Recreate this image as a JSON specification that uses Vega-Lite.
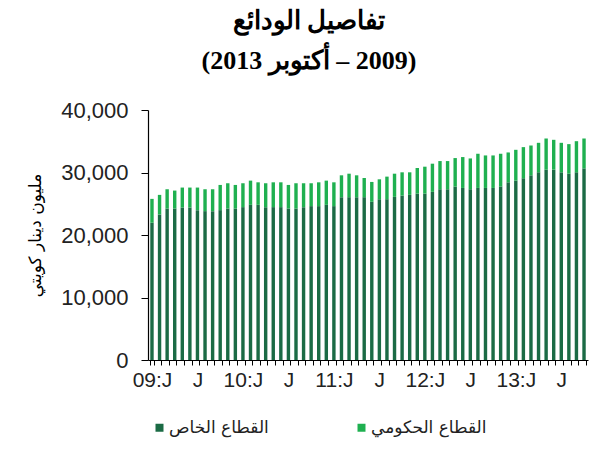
{
  "$schema": "https://vega.github.io/schema/vega-lite/v6.json",
  "width": 440,
  "height": 250,
  "autosize": {"type": "none"},
  "padding": {"left": 148, "top": 110, "right": 16, "bottom": 90},
  "background": "white",
  "title": {
    "text": ["تفاصيل الودائع", "⁧(2009 – أكتوبر 2013)⁩"],
    "font": "Liberation Serif, DejaVu Serif",
    "fontSize": 26,
    "fontWeight": "bold",
    "color": "black",
    "lineHeight": 40,
    "anchor": "middle",
    "dx": -59,
    "offset": 25
  },
  "config": {"view": {"stroke": null}},
  "data": {
    "values": [
      {"m": "2009-01", "القطاع الخاص": 21960, "القطاع الحكومي": 3820},
      {"m": "2009-02", "القطاع الخاص": 23290, "القطاع الحكومي": 3130},
      {"m": "2009-03", "القطاع الخاص": 24240, "القطاع الحكومي": 3080},
      {"m": "2009-04", "القطاع الخاص": 24240, "القطاع الحكومي": 2870},
      {"m": "2009-05", "القطاع الخاص": 24400, "القطاع الحكومي": 3190},
      {"m": "2009-06", "القطاع الخاص": 24400, "القطاع الحكومي": 3190},
      {"m": "2009-07", "القطاع الخاص": 23980, "القطاع الحكومي": 3610},
      {"m": "2009-08", "القطاع الخاص": 23820, "القطاع الحكومي": 3500},
      {"m": "2009-09", "القطاع الخاص": 23820, "القطاع الحكومي": 3500},
      {"m": "2009-10", "القطاع الخاص": 23980, "القطاع الحكومي": 4030},
      {"m": "2009-11", "القطاع الخاص": 24240, "القطاع الحكومي": 4040},
      {"m": "2009-12", "القطاع الخاص": 24240, "القطاع الحكومي": 3770},
      {"m": "2010-01", "القطاع الخاص": 24460, "القطاع الحكومي": 3820},
      {"m": "2010-02", "القطاع الخاص": 24830, "القطاع الحكومي": 3870},
      {"m": "2010-03", "القطاع الخاص": 24830, "القطاع الحكومي": 3600},
      {"m": "2010-04", "القطاع الخاص": 24460, "القطاع الحكومي": 3820},
      {"m": "2010-05", "القطاع الخاص": 24460, "القطاع الحكومي": 3970},
      {"m": "2010-06", "القطاع الخاص": 24460, "القطاع الحكومي": 3970},
      {"m": "2010-07", "القطاع الخاص": 24240, "القطاع الحكومي": 3770},
      {"m": "2010-08", "القطاع الخاص": 24240, "القطاع الحكومي": 4040},
      {"m": "2010-09", "القطاع الخاص": 24460, "القطاع الحكومي": 3820},
      {"m": "2010-10", "القطاع الخاص": 24620, "القطاع الحكومي": 3660},
      {"m": "2010-11", "القطاع الخاص": 24620, "القطاع الحكومي": 3810},
      {"m": "2010-12", "القطاع الخاص": 24830, "القطاع الحكومي": 3870},
      {"m": "2011-01", "القطاع الخاص": 24620, "القطاع الحكومي": 3810},
      {"m": "2011-02", "القطاع الخاص": 26050, "القطاع الحكومي": 3500},
      {"m": "2011-03", "القطاع الخاص": 26050, "القطاع الحكومي": 3760},
      {"m": "2011-04", "القطاع الخاص": 26050, "القطاع الحكومي": 3500},
      {"m": "2011-05", "القطاع الخاص": 26050, "القطاع الحكومي": 3070},
      {"m": "2011-06", "القطاع الخاص": 25310, "القطاع الحكومي": 3180},
      {"m": "2011-07", "القطاع الخاص": 25730, "القطاع الحكومي": 3180},
      {"m": "2011-08", "القطاع الخاص": 25730, "القطاع الحكومي": 3610},
      {"m": "2011-09", "القطاع الخاص": 26100, "القطاع الحكومي": 3710},
      {"m": "2011-10", "القطاع الخاص": 26310, "القطاع الحكومي": 3720},
      {"m": "2011-11", "القطاع الخاص": 26420, "القطاع الحكومي": 3610},
      {"m": "2011-12", "القطاع الخاص": 26630, "القطاع الحكومي": 4090},
      {"m": "2012-01", "القطاع الخاص": 26630, "القطاع الحكومي": 4300},
      {"m": "2012-02", "القطاع الخاص": 26900, "القطاع الحكومي": 4510},
      {"m": "2012-03", "القطاع الخاص": 27320, "القطاع الحكومي": 4510},
      {"m": "2012-04", "القطاع الخاص": 27320, "القطاع الحكومي": 4510},
      {"m": "2012-05", "القطاع الخاص": 27750, "القطاع الحكومي": 4560},
      {"m": "2012-06", "القطاع الخاص": 27530, "القطاع الحكومي": 4940},
      {"m": "2012-07", "القطاع الخاص": 27320, "القطاع الحكومي": 4930},
      {"m": "2012-08", "القطاع الخاص": 27530, "القطاع الحكومي": 5470},
      {"m": "2012-09", "القطاع الخاص": 27530, "القطاع الحكومي": 5200},
      {"m": "2012-10", "القطاع الخاص": 27530, "القطاع الحكومي": 5200},
      {"m": "2012-11", "القطاع الخاص": 27750, "القطاع الحكومي": 5250},
      {"m": "2012-12", "القطاع الخاص": 28430, "القطاع الحكومي": 4780},
      {"m": "2013-01", "القطاع الخاص": 28700, "القطاع الحكومي": 4930},
      {"m": "2013-02", "القطاع الخاص": 29070, "القطاع الحكومي": 4990},
      {"m": "2013-03", "القطاع الخاص": 29550, "القطاع الحكومي": 4770},
      {"m": "2013-04", "القطاع الخاص": 30030, "القطاع الحكومي": 4720},
      {"m": "2013-05", "القطاع الخاص": 30450, "القطاع الحكومي": 4990},
      {"m": "2013-06", "القطاع الخاص": 30450, "القطاع الحكومي": 4780},
      {"m": "2013-07", "القطاع الخاص": 30030, "القطاع الحكومي": 4720},
      {"m": "2013-08", "القطاع الخاص": 29810, "القطاع الحكومي": 4730},
      {"m": "2013-09", "القطاع الخاص": 30030, "القطاع الحكومي": 4980},
      {"m": "2013-10", "القطاع الخاص": 30660, "القطاع الحكومي": 4780}
    ]
  },
  "transform": [
    {"fold": ["القطاع الخاص", "القطاع الحكومي"], "as": ["s", "v"]}
  ],
  "mark": {"type": "bar"},
  "encoding": {
    "x": {
      "field": "m",
      "type": "ordinal",
      "scale": {"paddingInner": 0.55, "paddingOuter": 0.3},
      "axis": {
        "title": null,
        "labelAngle": 0,
        "labelOverlap": false,
        "labelExpr": "substring(datum.value,5,7)=='01' ? substring(datum.value,2,4)+':J' : (substring(datum.value,5,7)=='07' ? 'J' : '')",
        "labelFont": "Liberation Sans",
        "labelFontSize": 21,
        "labelColor": "#222222",
        "labelPadding": 4,
        "labelDx": -4,
        "tickBand": "extent",
        "tickSize": 5,
        "tickColor": "black",
        "domainColor": "black",
        "domainWidth": 1.2
      }
    },
    "y": {
      "field": "v",
      "type": "quantitative",
      "stack": "zero",
      "scale": {"domain": [0, 40000]},
      "axis": {
        "title": "مليون دينار كويتي",
        "titleFont": "DejaVu Serif, DejaVu Sans",
        "titleFontSize": 17,
        "titleFontWeight": "normal",
        "titleColor": "black",
        "titlePadding": 16,
        "values": [0, 10000, 20000, 30000, 40000],
        "format": ",d",
        "grid": false,
        "labelFont": "Liberation Sans",
        "labelFontSize": 22,
        "labelColor": "#222222",
        "labelPadding": 13,
        "tickSize": 7,
        "tickColor": "black",
        "domainColor": "black",
        "domainWidth": 1.2
      }
    },
    "color": {
      "field": "s",
      "type": "nominal",
      "scale": {
        "domain": ["القطاع الخاص", "القطاع الحكومي"],
        "range": ["#1b6b45", "#1fb050"]
      },
      "legend": {
        "title": null,
        "orient": "none",
        "direction": "horizontal",
        "legendX": 3,
        "legendY": 309,
        "symbolType": "square",
        "symbolSize": 64,
        "symbolStrokeWidth": 0,
        "labelFont": "DejaVu Sans",
        "labelFontSize": 17,
        "labelColor": "#222222",
        "columnPadding": 84,
        "labelOffset": 1
      }
    },
    "order": {"field": "s", "sort": "descending"}
  }
}
